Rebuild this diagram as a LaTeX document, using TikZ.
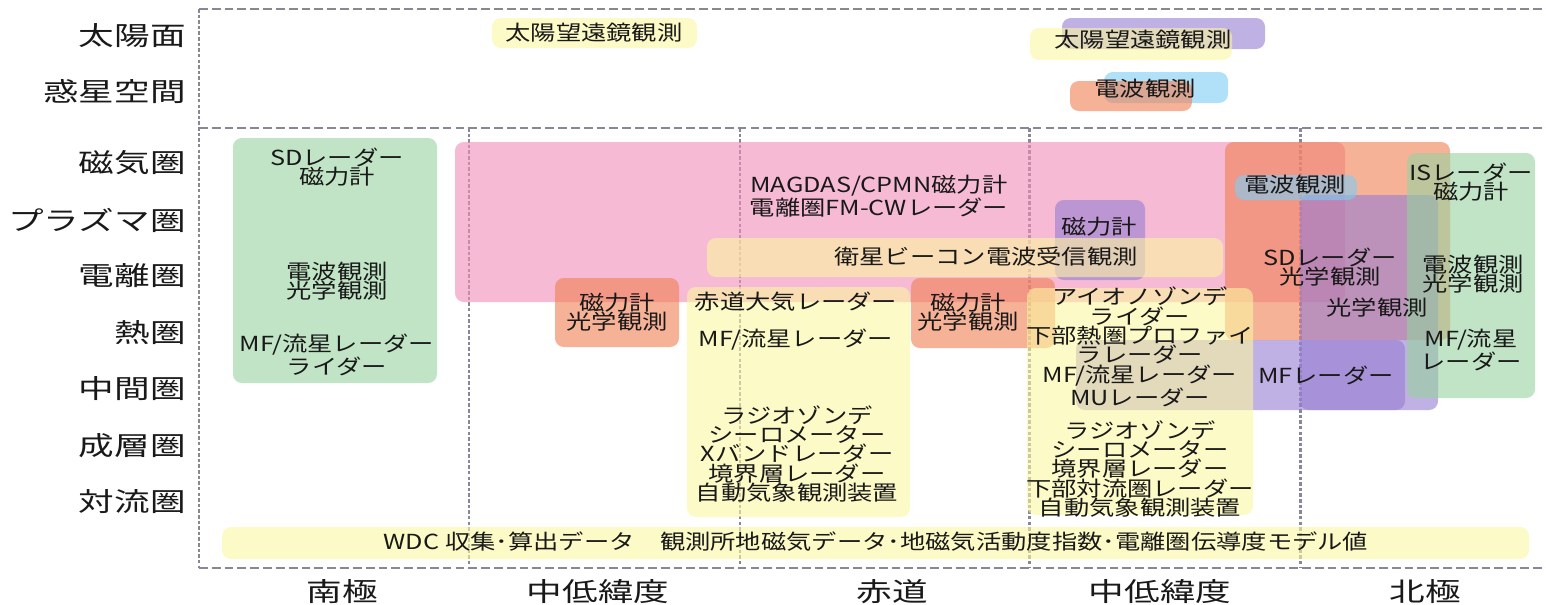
\documentclass[tikz,border=0pt]{standalone}
\usepackage{fontspec}
\usepackage{tikz}
\usetikzlibrary{positioning}
\newfontfamily\boxFont[FakeStretch=1.22]{Noto Sans CJK JP}
\newfontfamily\axisFont[FakeStretch=1.36]{Noto Sans CJK JP}
\tikzstyle{chart} = [x = 0.02cm, y = -0.02cm]
\definecolor{frameColor}{RGB}{135,135,150}
\definecolor{textColor}{RGB}{25,25,25}
\definecolor{greenObs}{RGB}{150,210,158}
\definecolor{pinkObs}{RGB}{240,140,185}
\definecolor{orangeObs}{RGB}{240,127,82}
\definecolor{yellowObs}{RGB}{250,246,160}
\definecolor{purpleObs}{RGB}{150,125,210}
\definecolor{blueObs}{RGB}{125,205,243}
\tikzstyle{frameLine} = [color=frameColor, line width=1.7pt, dash pattern=on 5pt off 2.3pt]
\tikzstyle{columnLine} = [color=frameColor, line width=1.7pt, dash pattern=on 2pt off 1.2pt]
\tikzstyle{obsBoxStyle} = [rounded corners=5pt, fill opacity=0.6]
\tikzstyle{obsText} = [font=\boxFont\fontsize{11.8pt}{11pt}\selectfont, align=center, inner sep=0pt, text=textColor]
\tikzstyle{axisText} = [font=\axisFont\fontsize{14.9pt}{16pt}\selectfont, inner sep=0pt, text=textColor]
\newcommand{\obsBox}[5]{\fill [obsBoxStyle, fill=#1] (#2,#3) rectangle (#4,#5);}
\newcommand{\rowLine}[1]{\draw [frameLine] (199,#1) -- (1546,#1);}
\newcommand{\columnLine}[1]{\draw [columnLine] (#1,128) -- (#1,568);}

\begin{document}
\begin{tikzpicture}[chart]
  \useasboundingbox (0,0) rectangle (1546,605);

  % frame
  \foreach \y in {9,128,568} {
    \rowLine{\y}
  }
  \draw [columnLine] (199,9) -- (199,568);
  \foreach \x in {469,740,1029,1300} {
    \columnLine{\x}
  }

  % row and column labels
  \foreach \name/\label/\y in {sun/太陽面/36, space/惑星空間/92, magneto/磁気圏/163,
      plasma/プラズマ圏/220, iono/電離圏/276, thermo/熱圏/333, meso/中間圏/389,
      strato/成層圏/446, tropo/対流圏/502} {
    \node [axisText, anchor=east] (row-\name) at (186,\y) {\label};
  }
  \foreach \name/\label/\x in {south/南極/342, midS/中低緯度/598, equator/赤道/892,
      midN/中低緯度/1160, north/北極/1425} {
    \node [axisText] (col-\name) at (\x,592) {\label};
  }

  % boxes
  \obsBox{purpleObs}{1062}{18}{1265}{49}
  \obsBox{yellowObs}{492}{18}{697}{48}
  \obsBox{yellowObs}{1030}{28}{1232}{60}
  \obsBox{blueObs}{1104}{72}{1228}{103}
  \obsBox{orangeObs}{1070}{81}{1192}{111}

  \obsBox{pinkObs}{455}{142}{1345}{302}
  \obsBox{orangeObs}{1225}{142}{1450}{340}
  \obsBox{orangeObs}{555}{278}{679}{347}
  \obsBox{orangeObs}{911}{278}{1055}{348}
  \obsBox{purpleObs}{1055}{200}{1145}{280}
  \obsBox{purpleObs}{1300}{195}{1438}{410}
  \obsBox{purpleObs}{1076}{340}{1405}{410}
  \obsBox{blueObs}{1235}{175}{1357}{200}
  \obsBox{greenObs}{233}{138}{437}{383}
  \obsBox{greenObs}{1407}{153}{1535}{398}
  \obsBox{yellowObs}{707}{238}{1223}{277}
  \obsBox{yellowObs}{687}{287}{910}{517}
  \obsBox{yellowObs}{1027}{288}{1253}{515}
  \obsBox{yellowObs}{222}{527}{1529}{559}

  % texts
  \node [obsText] (sunLeft) at (594,33) {太陽望遠鏡観測};
  \node [obsText] (sunRight) at (1143,40) {太陽望遠鏡観測};
  \node [obsText] (radioSpace) at (1145,89) {電波観測};

  \node [obsText] (southTop) at (337,167) {SDレーダー\\磁力計};
  \node [obsText] (southMid) at (337,281) {電波観測\\光学観測};
  \node [obsText] (southLow) at (337,355) {MF/流星レーダー\\ライダー};

  \node [obsText] (magdas) at (879,196) {MAGDAS/CPMN磁力計\\電離圏FM-CWレーダー};
  \node [obsText] (beacon) at (986,257) {衛星ビーコン電波受信観測};
  \node [obsText] (magMidN) at (1099,227) {磁力計};
  \node [obsText] (magMidS) at (617,312) {磁力計\\光学観測};
  \node [obsText] (magEq) at (968,312) {磁力計\\光学観測};

  \node [obsText] (eqRadar) at (796,302) {赤道大気レーダー};
  \node [obsText] (eqMeteor) at (796,340) {MF/流星レーダー};
  \node [obsText] (eqLow) at (797,454) {ラジオゾンデ\\シーロメーター\\Xバンドレーダー\\境界層レーダー\\自動気象観測装置};

  \node [obsText] (midUpper) at (1140,347) {アイオノゾンデ\\ライダー\\下部熱圏プロファイ\\ラレーダー\\MF/流星レーダー\\MUレーダー};
  \node [obsText] (midLower) at (1140,469) {ラジオゾンデ\\シーロメーター\\境界層レーダー\\下部対流圏レーダー\\自動気象観測装置};

  \node [obsText] (radioNorth) at (1295,185) {電波観測};
  \node [obsText] (sdNorth) at (1330,267) {SDレーダー\\光学観測};
  \node [obsText] (opticNorth) at (1377,308) {光学観測};
  \node [obsText] (mfNorth) at (1326,375) {MFレーダー};
  \node [obsText] (northTop) at (1471,182) {ISレーダー\\磁力計};
  \node [obsText] (northMid) at (1473,274) {電波観測\\光学観測};
  \node [obsText] (northLow) at (1471,350) {MF/流星\\レーダー};

  \node [obsText] (wdc) at (876,542) {WDC 収集･算出データ　観測所地磁気データ･地磁気活動度指数･電離圏伝導度モデル値};
\end{tikzpicture}
\end{document}
